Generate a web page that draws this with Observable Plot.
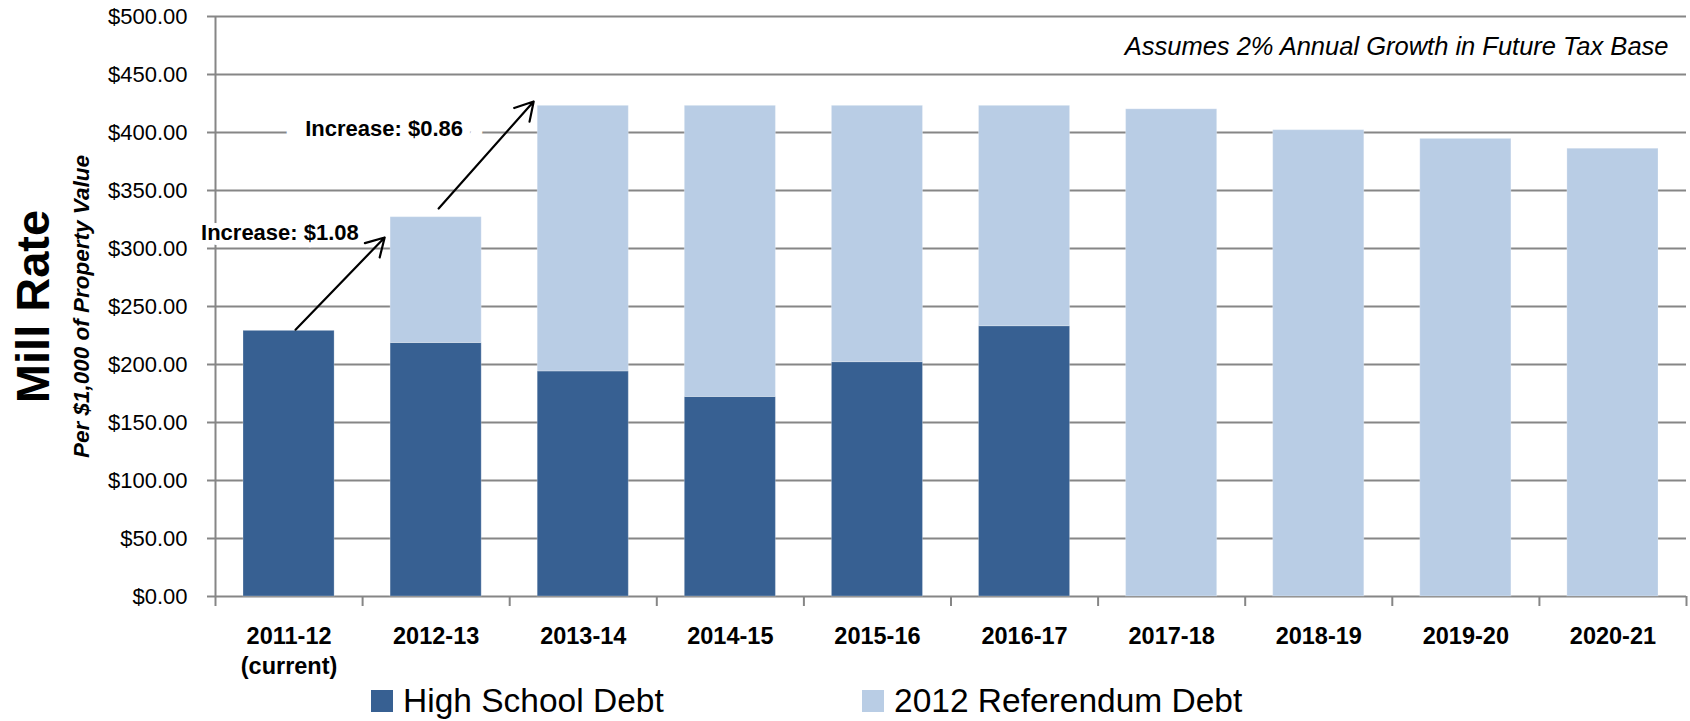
<!DOCTYPE html>
<html>
<head>
<meta charset="utf-8">
<script src="https://cdn.jsdelivr.net/npm/d3@7"></script>
<script src="https://cdn.jsdelivr.net/npm/@observablehq/plot@0.6"></script>
<style>
  html, body { margin: 0; padding: 0; background: #fff; }
  body { font-family: "Liberation Sans", Arial, sans-serif; width: 1690px; }
  #chart svg { display: block; }
  #legend { position: relative; width: 1690px; height: 41px; font-size: 33.5px; color: #000; }
  #legend .sw { position: absolute; top: 10px; width: 22px; height: 22px; }
  #legend .lb { position: absolute; top: 4px; line-height: 33px; white-space: nowrap; }
</style>
</head>
<body>
<div id="chart"></div>
<div id="legend"></div>
<script>
// ---- data ----
const categories = ["2011-12\n(current)", "2012-13", "2013-14", "2014-15", "2015-16",
                    "2016-17", "2017-18", "2018-19", "2019-20", "2020-21"];
const highSchoolDebt = [229, 218.5, 194, 172, 202, 233, 0, 0, 0, 0];
const referendumDebt = [0, 108.5, 229, 251, 221, 190, 420, 402, 394.5, 386];
const seriesNames = ["High School Debt", "2012 Referendum Debt"];
const seriesColors = ["#376092", "#B9CDE5"];
const yTicks = [0, 50, 100, 150, 200, 250, 300, 350, 400, 450, 500];
const annotationLabels = ["Increase: $1.08", "Increase: $0.86"];
const annotationX = [0.438, 1.146];
const annotationY = [313.8, 403.4];
const arrowFromX = [0.544, 1.517];
const arrowFromY = [230, 334.5];
const arrowToX = [1.15, 2.163];
const arrowToY = [309.5, 426.7];
const noteText = "Assumes 2% Annual Growth in Future Tax Base";
const yTitle = "Mill Rate";
const ySubtitle = "Per $1,000 of Property Value";

// ---- derived tables ----
const rows = [];
categories.forEach((c, i) => {
  const hs = highSchoolDebt[i], rf = referendumDebt[i];
  if (hs > 0) rows.push({i, series: seriesNames[0], y1: 0, y2: hs});
  if (rf > 0) rows.push({i, series: seriesNames[1], y1: hs, y2: hs + rf});
});
const annotations = annotationLabels.map((t, k) => ({t, x: annotationX[k], y: annotationY[k], halo: k === 0 ? 10 : 40}));
const arrows = arrowFromX.map((_, k) => ({x1: arrowFromX[k], y1: arrowFromY[k], x2: arrowToX[k], y2: arrowToY[k]}));
const gray = "#868686";

const chart = Plot.plot({
  width: 1690,
  height: 680,
  marginTop: 16,
  marginBottom: 84,
  marginLeft: 215,
  marginRight: 4,
  x: {domain: [0, categories.length], axis: null},
  y: {domain: [0, 500], axis: null},
  color: {domain: seriesNames, range: seriesColors},
  style: {fontFamily: "'Liberation Sans', Arial, sans-serif", color: "#000", background: "#fff", overflow: "visible"},
  marks: [
    Plot.gridY(yTicks, {stroke: gray, strokeOpacity: 1, strokeWidth: 2}),
    Plot.ruleX([0], {stroke: gray, strokeWidth: 2}),
    Plot.axisX(d3.range(0, categories.length + 1), {tickSize: 10, tickFormat: () => "", stroke: gray, strokeWidth: 2, label: null}),
    Plot.rect(rows, {
      x1: d => d.i, x2: d => d.i + 1, y1: "y1", y2: "y2",
      fill: "series", insetLeft: 28, insetRight: 28,
      stroke: "#ffffff", strokeOpacity: 0.25, strokeWidth: 1
    }),
    Plot.text(annotations, {
      x: "x", y: "y", text: "t", fontSize: 22, fontWeight: "bold", fill: "#000",
      stroke: "#fff", strokeWidth: "halo", strokeLinejoin: "round", paintOrder: "stroke"
    }),
    Plot.arrow(arrows, {x1: "x1", y1: "y1", x2: "x2", y2: "y2", stroke: "#000", strokeWidth: 2.2, headLength: 14}),
    Plot.axisY(yTicks, {
      anchor: "left", tickSize: 8, tickPadding: 20, fontSize: 22,
      tickFormat: d => "$" + d.toFixed(2), stroke: gray, strokeWidth: 2, fill: "#000", label: null
    }),
    Plot.text(categories, {
      x: (d, i) => i + 0.5, frameAnchor: "bottom", lineAnchor: "top", dy: 26,
      fontSize: 23.5, fontWeight: "bold", lineHeight: 1.28, fill: "#000"
    }),
    Plot.text([noteText], {
      frameAnchor: "top-right", textAnchor: "end", lineAnchor: "top", dx: -18, dy: 20,
      fontSize: 25.5, fontStyle: "italic", fill: "#000"
    }),
    Plot.text([yTitle], {
      frameAnchor: "left", textAnchor: "middle", lineAnchor: "middle", rotate: -90, dx: -182,
      fontSize: 47, fontWeight: "bold", fill: "#000"
    }),
    Plot.text([ySubtitle], {
      frameAnchor: "left", textAnchor: "middle", lineAnchor: "middle", rotate: -90, dx: -134,
      fontSize: 22.5, fontWeight: "bold", fontStyle: "italic", fill: "#000"
    })
  ]
});
document.getElementById("chart").appendChild(chart);

// ---- legend (HTML, below the SVG) ----
const legend = document.getElementById("legend");
const legendLeft = [371, 862];
seriesNames.forEach((name, k) => {
  const sw = document.createElement("span");
  sw.className = "sw";
  sw.style.left = legendLeft[k] + "px";
  sw.style.background = seriesColors[k];
  const lb = document.createElement("span");
  lb.className = "lb";
  lb.style.left = (legendLeft[k] + 32) + "px";
  lb.textContent = name;
  legend.appendChild(sw);
  legend.appendChild(lb);
});
</script>
</body>
</html>
